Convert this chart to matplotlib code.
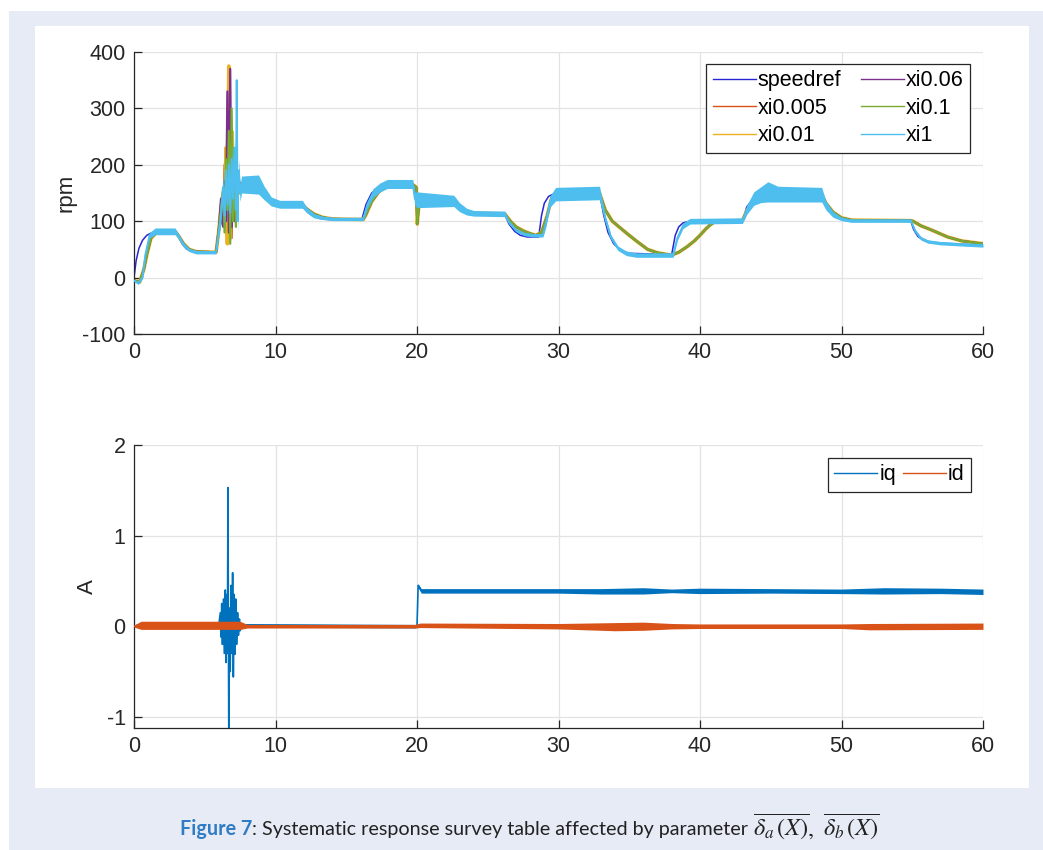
import numpy as np
import matplotlib.pyplot as plt
from matplotlib.patches import Rectangle

plt.rcParams['font.family'] = ['Liberation Sans', 'DejaVu Sans']
plt.rcParams['axes.unicode_minus'] = False

# ---- speed loop (rpm) ----
speedref_t = [0, 0.15, 0.35, 0.6, 0.9, 1.3, 2.9, 3.1, 3.4, 3.7, 4.1, 4.6, 5.8,
              6.0, 6.3, 6.7, 7.2, 8.0, 9.0, 9.3, 9.7, 10.3, 11.0, 11.9,
              12.2, 12.6, 13.1, 13.8, 16.1, 16.4, 16.8, 17.3, 17.9, 19.7,
              19.95, 20.3, 22.6, 22.9, 23.3, 23.8, 26.2, 26.5, 26.9, 27.3, 27.8, 28.6,
              28.8, 29.0, 29.3, 29.8, 32.9, 33.2, 33.5, 33.9, 34.4, 35.0, 38.0,
              38.25, 38.5, 38.8, 39.3, 43.0, 43.3, 43.7, 44.3, 48.6,
              48.9, 49.3, 49.9, 50.6, 54.9, 55.1, 55.4, 55.8, 56.4, 57.5, 60]
speedref_v = [0, 30, 52, 66, 75, 80, 82, 74, 60, 51, 47, 45, 45,
              80, 115, 140, 152, 158, 160, 150, 138, 131, 129, 128,
              118, 110, 105, 103, 103, 130, 150, 160, 165, 166,
              140, 136, 134, 124, 117, 113, 112, 95, 82, 75, 72, 72,
              110, 132, 144, 150, 150, 110, 80, 60, 48, 43, 41,
              75, 90, 97, 100, 100, 125, 138, 145, 147,
              128, 113, 104, 101, 100, 85, 73, 66, 62, 60, 57]

# common trajectory of the low-xi runs (xi0.005 ... xi0.1)
slow_t = [0, 0.4, 0.7, 0.9, 1.2, 1.6, 2.9, 3.1, 3.5, 3.9, 4.4, 5.7,
          7.7, 8.8, 9.2, 9.7, 10.3, 11.9, 12.2, 12.7, 13.3, 14.0, 16.2,
          16.4, 16.8, 17.3, 17.8, 18.3, 19.7, 19.95, 20.02, 20.15, 22.6,
          23.0, 23.5, 24.0, 26.2, 26.6, 27.0, 27.5, 28.0, 28.4, 28.8, 29.2, 29.5, 29.8, 32.9,
          33.3, 33.8, 34.8, 35.5, 36.3, 37.0, 37.7, 38.0, 38.5, 39.1, 39.6, 40.0, 40.4, 40.7, 41.1, 43.0,
          43.3, 43.8, 44.3, 48.6, 48.9, 49.4, 50.0, 50.7, 54.9,
          55.06, 55.6, 56.4, 57.5, 58.5, 60]
slow_v = [-5, -8, 15, 40, 70, 80, 82, 76, 60, 50, 46, 45,
          162, 163, 150, 137, 131, 129, 122, 113, 107, 104, 103,
          112, 135, 152, 162, 165, 165, 160, 95, 135, 135,
          126, 118, 114, 113, 100, 90, 83, 78, 75, 80, 110, 140, 148, 150,
          120, 100, 79, 65, 50, 44, 41, 40, 45, 55, 65, 75, 86, 93, 100, 101,
          118, 138, 146, 147, 132, 116, 106, 102, 101,
          100, 92, 84, 72, 65, 60]

# start-up oscillation of each low-xi run
spike_t = [5.8, 6.0, 6.15, 6.3, 6.4, 6.5, 6.6, 6.7, 6.8, 6.9, 7.0, 7.1, 7.2, 7.3, 7.45, 7.6]
xi0005_spike = [45, 90, 130, 110, 200, 90, 280, 100, 230, 70, 180, 120, 200, 140, 170, 160]
xi001_spike = [45, 85, 125, 150, 100, 230, 60, 375, 70, 260, 110, 190, 130, 170, 150, 162]
xi006_spike = [45, 88, 140, 90, 170, 100, 330, 80, 370, 90, 200, 100, 180, 150, 160, 163]
xi01_spike = [45, 86, 120, 160, 80, 210, 120, 260, 60, 300, 100, 230, 90, 190, 150, 165]

# xi1 run: centre and ripple half-width
xi1_t = [0, 0.3, 0.6, 0.8, 1.1, 1.5, 2.9, 3.1, 3.5, 3.9, 4.4, 5.8,
         6.1, 6.3, 6.4, 6.5, 6.6, 6.7, 6.8, 6.9, 7.0, 7.1, 7.2, 7.26, 7.32, 7.4, 7.5,
         7.6, 8.8, 9.2, 9.7, 10.3, 11.9, 12.2, 12.7, 13.3, 14.0, 16.2,
         16.5, 16.9, 17.4, 17.9, 19.7, 19.85, 20.0, 22.6, 23.0, 23.5, 24.0, 26.2,
         26.5, 27.0, 27.6, 28.2, 28.9, 29.1, 29.4, 29.8, 32.9,
         33.3, 33.7, 34.2, 34.8, 35.5, 38.1, 38.4, 38.8, 39.3, 43.0,
         43.3, 43.8, 44.3, 44.8, 45.5, 48.6, 48.9, 49.4, 50.0, 50.7, 54.9,
         55.2, 55.6, 56.1, 57.0, 60]
xi1_v = [-5, -10, 0, 40, 75, 82, 82, 75, 58, 49, 45, 45,
         100, 160, 110, 190, 130, 200, 115, 210, 140, 230, 120, 350, 100, 190, 150,
         165, 165, 150, 135, 130, 130, 120, 110, 106, 104, 104,
         130, 150, 160, 166, 166, 140, 138, 136, 125, 117, 114, 113,
         98, 84, 77, 75, 75, 95, 135, 148, 150,
         105, 72, 52, 43, 40, 40, 70, 92, 100, 101,
         120, 140, 147, 152, 148, 147, 128, 112, 104, 101, 101,
         83, 70, 64, 61, 57]
xi1_w = [2, 2, 2, 3, 5, 6, 6, 5, 4, 3, 3, 3,
         10, 20, 20, 20, 20, 20, 20, 20, 20, 20, 20, 5, 20, 20, 15,
         15, 17, 12, 8, 7, 7, 5, 4, 3, 3, 3,
         6, 8, 8, 8, 8, 12, 14, 10, 8, 6, 5, 5,
         3, 3, 3, 3, 3, 6, 10, 12, 12,
         6, 4, 4, 4, 4, 4, 4, 5, 5, 5,
         8, 12, 14, 18, 14, 13, 8, 5, 3, 3, 3,
         3, 3, 3, 3, 3]

# ---- current loop (A) ----
iq_t = [0, 0.5, 6.0, 6.1, 6.15, 6.2, 6.25, 6.32, 6.38, 6.45, 6.5, 6.56, 6.6, 6.64, 6.7,
        6.76, 6.8, 6.86, 6.92, 6.97, 7.02, 7.08, 7.13, 7.2, 7.25, 7.32, 7.38, 7.45, 7.5,
        7.6, 19.9, 20.0, 20.08, 20.3, 30, 33, 36, 38, 40, 45, 50, 53, 57, 60]
iq_v = [0.0, 0.02, 0.02, 0.15, -0.12, 0.25, -0.2, 0.3, -0.3, 0.4, -0.4, 0.35, -0.3, 1.53, -1.3,
        0.2, -0.5, 0.45, -0.3, 0.59, -0.56, 0.35, -0.31, 0.3, -0.2, 0.15, -0.1, 0.08, -0.05,
        0.01, 0.0, 0.0, 0.45, 0.39, 0.39, 0.385, 0.39, 0.39, 0.39, 0.39, 0.385, 0.39, 0.39, 0.38]
iq_w = [0.01, 0.03, 0.03, 0, 0, 0, 0, 0, 0, 0, 0, 0, 0, 0, 0,
        0, 0, 0, 0, 0, 0, 0, 0, 0, 0, 0, 0, 0, 0,
        0.02, 0.02, 0.01, 0.02, 0.025, 0.025, 0.03, 0.035, 0.02, 0.03, 0.025, 0.025, 0.035, 0.03, 0.03]

id_t = [0, 0.5, 7.5, 8.0, 19.9, 20.2, 30, 34, 36, 38, 40, 50, 52, 60]
id_v = [0.0, 0.01, 0.01, 0.0, 0.0, 0.01, 0.0, -0.005, 0.0, 0.0, 0.0, 0.0, -0.005, 0.0]
id_w = [0.01, 0.045, 0.045, 0.02, 0.02, 0.025, 0.03, 0.045, 0.045, 0.03, 0.025, 0.025, 0.035, 0.035]

speed_labels = ['speedref', 'xi0.005', 'xi0.01', 'xi0.06', 'xi0.1', 'xi1']
colors = ['#2626d6', '#D95319', '#EDB120', '#7E2F8E', '#77AC30', '#4DBEEE']
slow_lw = [1.6, 2.6, 1.6, 1.6]


def with_spike(spike_v):
    t = np.asarray(slow_t)
    v = np.asarray(slow_v)
    pre = t < spike_t[0]
    post = t > spike_t[-1]
    return (np.concatenate([t[pre], spike_t, t[post]]),
            np.concatenate([v[pre], spike_v, v[post]]))


def style(ax, yticks, ylim):
    ax.set_xlim(0, 60)
    ax.set_ylim(*ylim)
    ax.set_xticks(range(0, 61, 10))
    ax.set_yticks(yticks)
    ax.grid(True, color='#e3e3e3', linewidth=0.9)
    ax.set_axisbelow(True)
    for s in ['top', 'right']:
        ax.spines[s].set_visible(False)
    for s in ['left', 'bottom']:
        ax.spines[s].set_color('#262626')
        ax.spines[s].set_linewidth(0.9)
    ax.tick_params(direction='in', length=6, width=0.9, color='#262626',
                   labelsize=15.5, labelcolor='#262626', pad=6)


fig = plt.figure(figsize=(10.43, 8.5), dpi=100)
fig.add_artist(Rectangle((9 / 1043, 0), 1, 839 / 850, transform=fig.transFigure,
                         facecolor='#e7ebf6', edgecolor='none', zorder=-2))
fig.add_artist(Rectangle((35 / 1043, 62 / 850), 994 / 1043, 762 / 850, transform=fig.transFigure,
                         facecolor='white', edgecolor='none', zorder=-1))

ax1 = fig.add_axes([134 / 1043, 1 - 334 / 850, 849 / 1043, 282 / 850])
ax2 = fig.add_axes([134 / 1043, 1 - 727.7 / 850, 849 / 1043, 282.7 / 850])

# speed responses
ax1.plot(speedref_t, speedref_v, color=colors[0], lw=1.1, label=speed_labels[0], zorder=2)
for spike, c, lab, lw in zip([xi0005_spike, xi001_spike, xi006_spike, xi01_spike],
                             colors[1:5], speed_labels[1:5], slow_lw):
    t, v = with_spike(spike)
    ax1.plot(t, v, color=c, lw=lw, label=lab, zorder=2)
xi1_c = np.array(xi1_v)
xi1_h = np.array(xi1_w)
ax1.fill_between(xi1_t, xi1_c - xi1_h, xi1_c + xi1_h, color=colors[5], lw=0, zorder=3)
ax1.plot(xi1_t, xi1_v, color=colors[5], lw=1.4, label=speed_labels[5], zorder=3)
style(ax1, range(-100, 401, 100), (-100, 400))
ax1.set_ylabel('rpm', fontsize=16, color='#262626', labelpad=4)
leg1 = ax1.legend(ncol=2, loc='upper right', bbox_to_anchor=(0.985, 0.958), borderaxespad=0,
                  fontsize=15.5, frameon=True, fancybox=False, framealpha=1, edgecolor='#262626',
                  handlelength=2.0, handletextpad=0.1, columnspacing=0.9, labelspacing=0.3,
                  borderpad=0.3)
leg1.get_frame().set_linewidth(0.9)
for ln in leg1.get_lines():
    ln.set_linewidth(1.0)

# dq currents
iq_c = np.array(iq_v)
iq_h = np.array(iq_w)
ax2.fill_between(iq_t, iq_c - iq_h, iq_c + iq_h, color='#0072BD', lw=0, zorder=2)
ax2.plot(iq_t, iq_v, color='#0072BD', lw=1.2, label='iq', zorder=2)
id_c = np.array(id_v)
id_h = np.array(id_w)
ax2.fill_between(id_t, id_c - id_h, id_c + id_h, color='#D95319', lw=0, zorder=3)
ax2.plot(id_t, id_v, color='#D95319', lw=1.2, label='id', zorder=3)
style(ax2, [-1, 0, 1, 2], (-1.12, 2))
ax2.set_ylabel('A', fontsize=16, color='#262626', labelpad=6)
leg2 = ax2.legend(ncol=2, loc='upper right', bbox_to_anchor=(0.986, 0.954), borderaxespad=0,
                  fontsize=15.5, frameon=True, fancybox=False, framealpha=1, edgecolor='#262626',
                  handlelength=2.0, handletextpad=0.1, columnspacing=0.3, borderpad=0.3)
leg2.get_frame().set_linewidth(0.9)
for ln in leg2.get_lines():
    ln.set_linewidth(1.0)

# caption, written in three pieces on one baseline
y_cap = 1 - 835 / 850
fig.canvas.draw()
x_pos = 180 / 1043
pieces = [
    ('Figure 7', dict(fontsize=14.2, fontweight='bold', color='#2f7cc4', family='Lato')),
    (': Systematic response survey table affected by parameter ',
     dict(fontsize=14.2, color='#222222', family='Lato')),
    (r'$\overline{\delta_a\,(X)},\ \overline{\delta_b\,(X)}$',
     dict(fontsize=17.5, color='#222222', math_fontfamily='stix')),
]
for txt, kw in pieces:
    tx = fig.text(x_pos, y_cap, txt, va='baseline', **kw)
    x_pos = tx.get_window_extent(renderer=fig.canvas.get_renderer()).x1 / fig.bbox.width

fig.savefig('out.png', dpi=100)
